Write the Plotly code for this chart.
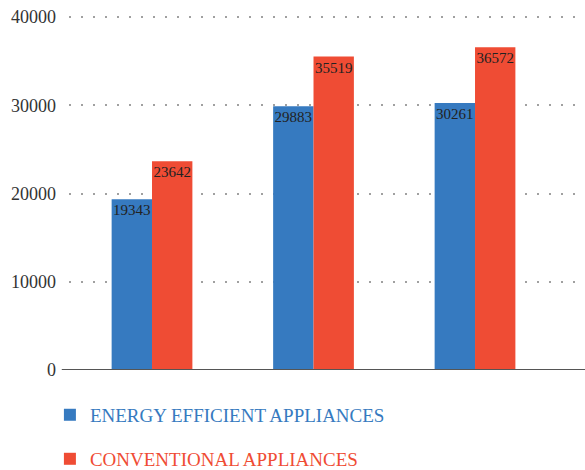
import plotly.graph_objects as go

categories = ["A", "B", "C"]
efficient = [19343, 29883, 30261]
conventional = [23642, 35519, 36572]
tick_vals = [0, 10000, 20000, 30000, 40000]
tick_text = ["0", "10000", "20000", "30000", "40000"]
series_names = ["ENERGY EFFICIENT APPLIANCES", "CONVENTIONAL APPLIANCES"]

BLUE = "#367ac0"
RED = "#ef4c34"
FONT = "'Liberation Serif', 'Times New Roman', 'DejaVu Serif', serif"

fig = go.Figure()
fig.add_trace(go.Bar(
    x=categories, y=efficient, marker_color=BLUE, marker_line_width=0,
    name=series_names[0],
    text=[str(v) for v in efficient], textposition="inside", insidetextanchor="end",
    textangle=0,
    textfont=dict(family=FONT, size=15, color="#222222"), constraintext="none",
    legend="legend",
))
fig.add_trace(go.Bar(
    x=categories, y=conventional, marker_color=RED, marker_line_width=0,
    name=series_names[1],
    text=[str(v) for v in conventional], textposition="inside", insidetextanchor="end",
    textangle=0,
    textfont=dict(family=FONT, size=15, color="#222222"), constraintext="none",
    legend="legend2",
))

fig.update_layout(
    width=585, height=470,
    margin=dict(l=69, r=0, t=15, b=100, autoexpand=False),
    plot_bgcolor="white", paper_bgcolor="white",
    barmode="group", bargap=0.5, bargroupgap=0,
    font=dict(family=FONT, size=18, color="#333333"),
    xaxis=dict(range=[-0.514, 2.681], showticklabels=False, showgrid=False,
               zeroline=False, showline=False, ticks=""),
    yaxis=dict(range=[0, 40227], tickvals=tick_vals, ticktext=tick_text, showgrid=True,
               gridcolor="#a0a0a0", gridwidth=2, griddash="2px,10px",
               zeroline=False, showline=False, ticks="", ticklabelstandoff=12),
    legend=dict(x=-0.037, xanchor="left", y=-0.073, yanchor="top",
                font=dict(family=FONT, size=19, color=BLUE), bgcolor="rgba(0,0,0,0)"),
    legend2=dict(x=-0.037, xanchor="left", y=-0.197, yanchor="top",
                 font=dict(family=FONT, size=19, color=RED), bgcolor="rgba(0,0,0,0)"),
    showlegend=True,
)
fig.add_shape(type="line", xref="paper", yref="y", x0=-0.014, x1=1, y0=0, y1=0,
              line=dict(color="#555555", width=2))
fig.write_html("out.html")
